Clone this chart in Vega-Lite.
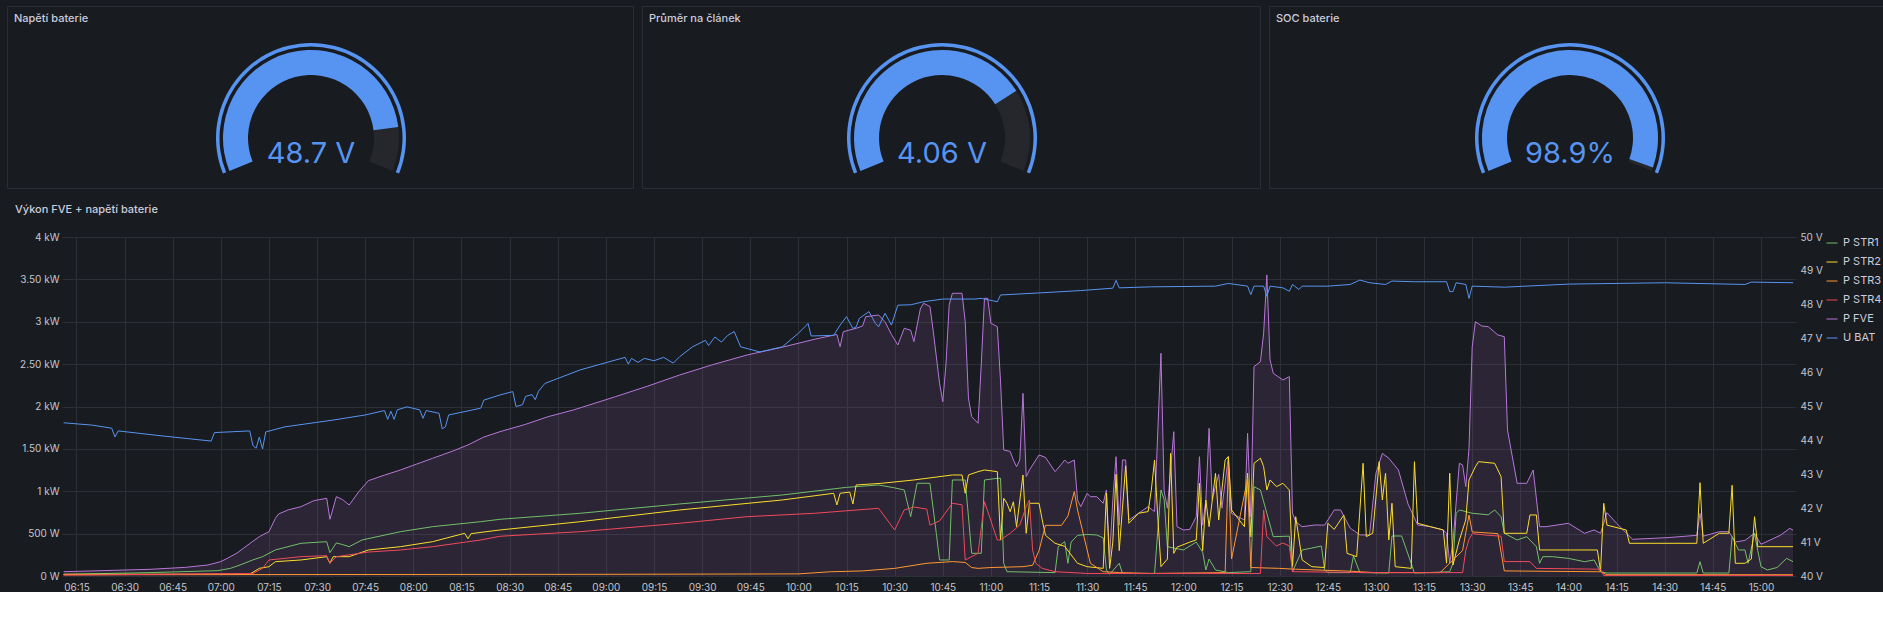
{
  "$schema": "https://vega.github.io/schema/vega-lite/v6.json",
  "background": "#181b1f",
  "padding": {"left": 6, "top": 5, "right": 0, "bottom": 0},
  "spacing": 15,
  "resolve": {"scale": {"color": "independent"}, "legend": {"color": "independent"}},
  "config": {
    "font": "Inter",
    "view": {"stroke": null},
    "axis": {"labelFont": "Inter", "labelFontSize": 10, "labelColor": "#c5c6d0", "domain": false, "ticks": false, "tickSize": 0, "gridColor": "#2c2f35", "gridWidth": 1, "title": null},
    "title": {"font": "Inter", "fontSize": 11, "fontWeight": 500, "color": "#ccccdc"},
    "legend": {"labelFont": "Inter", "labelFontSize": 11, "labelColor": "#ccccdc", "symbolType": "stroke", "symbolStrokeWidth": 4, "symbolSize": 121, "rowPadding": 8, "labelOffset": 5, "padding": 0, "offset": 3, "title": null},
    "line": {"strokeWidth": 1}
  },
  "vconcat": [
    {
      "spacing": 7,
      "hconcat": [
        {
          "width": 626, "height": 182,
          "view": {"fill": "#181b1f", "stroke": "#2a2d33"},
          "title": {"text": "Napětí baterie", "anchor": "start", "frame": "group", "dx": 7, "offset": -29, "baseline": "bottom"},
          "data": {"values": [{"value": 48.7, "min": 40, "max": 50, "label": "48.7 V"}]},
          "layer": [
            {"mark": {"type": "arc", "outerRadius": 95, "innerRadius": 91.5, "color": "#5794F2", "x": 304, "y": 132},
             "encoding": {"theta": {"field": "min", "type": "quantitative", "stack": null, "scale": {"domain": [40, 50], "range": [-1.955, 1.955]}}, "theta2": {"field": "max"}}},
            {"mark": {"type": "arc", "outerRadius": 88, "innerRadius": 63, "color": "#26272c", "x": 304, "y": 132},
             "encoding": {"theta": {"field": "min", "type": "quantitative", "stack": null}, "theta2": {"field": "max"}}},
            {"mark": {"type": "arc", "outerRadius": 88, "innerRadius": 63, "color": "#5794F2", "x": 304, "y": 132},
             "encoding": {"theta": {"field": "min", "type": "quantitative", "stack": null}, "theta2": {"field": "value"}}},
            {"mark": {"type": "text", "font": "Inter", "fontSize": 29, "color": "#5794F2", "align": "center", "baseline": "alphabetic", "x": 304, "y": 157},
             "encoding": {"text": {"field": "label"}}}
          ]
        },
        {
          "width": 618, "height": 182,
          "view": {"fill": "#181b1f", "stroke": "#2a2d33"},
          "title": {"text": "Průměr na článek", "anchor": "start", "frame": "group", "dx": 7, "offset": -29, "baseline": "bottom"},
          "data": {"values": [{"value": 4.06, "min": 3, "max": 4.4, "label": "4.06 V"}]},
          "layer": [
            {"mark": {"type": "arc", "outerRadius": 95, "innerRadius": 91.5, "color": "#5794F2", "x": 300, "y": 132},
             "encoding": {"theta": {"field": "min", "type": "quantitative", "stack": null, "scale": {"domain": [3, 4.4], "range": [-1.955, 1.955]}}, "theta2": {"field": "max"}}},
            {"mark": {"type": "arc", "outerRadius": 88, "innerRadius": 63, "color": "#26272c", "x": 300, "y": 132},
             "encoding": {"theta": {"field": "min", "type": "quantitative", "stack": null}, "theta2": {"field": "max"}}},
            {"mark": {"type": "arc", "outerRadius": 88, "innerRadius": 63, "color": "#5794F2", "x": 300, "y": 132},
             "encoding": {"theta": {"field": "min", "type": "quantitative", "stack": null}, "theta2": {"field": "value"}}},
            {"mark": {"type": "text", "font": "Inter", "fontSize": 29, "color": "#5794F2", "align": "center", "baseline": "alphabetic", "x": 300, "y": 157},
             "encoding": {"text": {"field": "label"}}}
          ]
        },
        {
          "width": 616, "height": 182,
          "view": {"fill": "#181b1f", "stroke": "#2a2d33"},
          "title": {"text": "SOC baterie", "anchor": "start", "frame": "group", "dx": 7, "offset": -29, "baseline": "bottom"},
          "data": {"values": [{"value": 98.9, "min": 0, "max": 100, "label": "98.9%"}]},
          "layer": [
            {"mark": {"type": "arc", "outerRadius": 95, "innerRadius": 91.5, "color": "#5794F2", "x": 301, "y": 132},
             "encoding": {"theta": {"field": "min", "type": "quantitative", "stack": null, "scale": {"domain": [0, 100], "range": [-1.955, 1.955]}}, "theta2": {"field": "max"}}},
            {"mark": {"type": "arc", "outerRadius": 88, "innerRadius": 63, "color": "#26272c", "x": 301, "y": 132},
             "encoding": {"theta": {"field": "min", "type": "quantitative", "stack": null}, "theta2": {"field": "max"}}},
            {"mark": {"type": "arc", "outerRadius": 88, "innerRadius": 63, "color": "#5794F2", "x": 301, "y": 132},
             "encoding": {"theta": {"field": "min", "type": "quantitative", "stack": null}, "theta2": {"field": "value"}}},
            {"mark": {"type": "text", "font": "Inter", "fontSize": 29, "color": "#5794F2", "align": "center", "baseline": "alphabetic", "x": 301, "y": 157},
             "encoding": {"text": {"field": "label"}}}
          ]
        }
      ]
    },
    {
      "width": 1789, "height": 339,
      "title": {"text": "Výkon FVE + napětí baterie", "anchor": "start", "frame": "group", "dx": 8, "offset": 6, "baseline": "bottom"},
      "layer": [
        {
          "layer": [
            {
              "data": {"format": {"parse": {"t": "utc:'%H:%M'"}}, "values": [{"t":"06:11","v":51},{"t":"06:23","v":63},{"t":"06:38","v":79},{"t":"06:49","v":102},{"t":"06:56","v":130},{"t":"07:00","v":170},{"t":"07:02","v":208},{"t":"07:05","v":270},{"t":"07:07","v":326},{"t":"07:10","v":410},{"t":"07:12","v":464},{"t":"07:15","v":523},{"t":"07:17","v":680},{"t":"07:18","v":732},{"t":"07:21","v":780},{"t":"07:25","v":818},{"t":"07:29","v":889},{"t":"07:33","v":917},{"t":"07:34","v":669},{"t":"07:35","v":800},{"t":"07:36","v":936},{"t":"07:38","v":900},{"t":"07:40","v":838},{"t":"07:43","v":995},{"t":"07:46","v":1125},{"t":"07:51","v":1190},{"t":"07:56","v":1251},{"t":"08:01","v":1320},{"t":"08:06","v":1389},{"t":"08:12","v":1470},{"t":"08:17","v":1546},{"t":"08:22","v":1640},{"t":"08:27","v":1703},{"t":"08:35","v":1790},{"t":"08:42","v":1880},{"t":"08:50","v":1960},{"t":"09:03","v":2116},{"t":"09:13","v":2240},{"t":"09:23","v":2372},{"t":"09:33","v":2490},{"t":"09:44","v":2608},{"t":"09:55","v":2700},{"t":"10:05","v":2793},{"t":"10:12","v":2850},{"t":"10:13","v":2706},{"t":"10:14","v":2883},{"t":"10:18","v":2923},{"t":"10:20","v":2950},{"t":"10:21","v":3060},{"t":"10:25","v":3080},{"t":"10:27","v":3000},{"t":"10:29","v":2850},{"t":"10:31","v":2726},{"t":"10:33","v":2923},{"t":"10:35","v":2900},{"t":"10:36","v":2765},{"t":"10:38","v":3150},{"t":"10:39","v":3218},{"t":"10:41","v":3180},{"t":"10:42","v":2900},{"t":"10:44","v":2274},{"t":"10:45","v":2057},{"t":"10:46","v":2500},{"t":"10:47","v":3200},{"t":"10:48","v":3336},{"t":"10:51","v":3336},{"t":"10:52","v":3000},{"t":"10:53","v":2100},{"t":"10:54","v":1880},{"t":"10:56","v":1802},{"t":"10:57","v":2500},{"t":"10:58","v":3277},{"t":"10:59","v":3277},{"t":"11:00","v":2982},{"t":"11:02","v":2942},{"t":"11:03","v":2300},{"t":"11:04","v":1487},{"t":"11:06","v":1470},{"t":"11:07","v":1369},{"t":"11:08","v":1290},{"t":"11:09","v":1369},{"t":"11:10","v":2156},{"t":"11:11","v":1172},{"t":"11:12","v":1250},{"t":"11:15","v":1428},{"t":"11:17","v":1400},{"t":"11:20","v":1231},{"t":"11:22","v":1320},{"t":"11:23","v":1369},{"t":"11:24","v":1330},{"t":"11:26","v":1369},{"t":"11:27","v":897},{"t":"11:28","v":818},{"t":"11:30","v":975},{"t":"11:31","v":936},{"t":"11:33","v":936},{"t":"11:35","v":858},{"t":"11:36","v":1015},{"t":"11:37","v":228},{"t":"11:38","v":900},{"t":"11:39","v":1408},{"t":"11:40","v":600},{"t":"11:41","v":1369},{"t":"11:42","v":1369},{"t":"11:43","v":661},{"t":"11:46","v":740},{"t":"11:49","v":818},{"t":"11:51","v":760},{"t":"11:53","v":2628},{"t":"11:54","v":1000},{"t":"11:55","v":800},{"t":"11:57","v":1703},{"t":"11:58","v":582},{"t":"12:00","v":543},{"t":"12:02","v":550},{"t":"12:04","v":700},{"t":"12:05","v":1408},{"t":"12:06","v":600},{"t":"12:07","v":900},{"t":"12:08","v":1743},{"t":"12:09","v":900},{"t":"12:10","v":1055},{"t":"12:11","v":1200},{"t":"12:12","v":800},{"t":"12:14","v":1408},{"t":"12:15","v":740},{"t":"12:17","v":700},{"t":"12:19","v":661},{"t":"12:20","v":1684},{"t":"12:21","v":700},{"t":"12:22","v":2470},{"t":"12:24","v":2529},{"t":"12:25","v":2864},{"t":"12:26","v":3552},{"t":"12:27","v":2549},{"t":"12:28","v":2392},{"t":"12:31","v":2313},{"t":"12:33","v":2352},{"t":"12:34","v":740},{"t":"12:35","v":641},{"t":"12:37","v":582},{"t":"12:41","v":602},{"t":"12:44","v":600},{"t":"12:47","v":779},{"t":"12:49","v":779},{"t":"12:52","v":564},{"t":"12:55","v":485},{"t":"12:58","v":485},{"t":"13:00","v":1212},{"t":"13:02","v":1447},{"t":"13:04","v":1390},{"t":"13:07","v":1251},{"t":"13:10","v":850},{"t":"13:13","v":602},{"t":"13:17","v":582},{"t":"13:21","v":543},{"t":"13:22","v":504},{"t":"13:23","v":151},{"t":"13:24","v":400},{"t":"13:26","v":1330},{"t":"13:27","v":1310},{"t":"13:28","v":1054},{"t":"13:29","v":1500},{"t":"13:30","v":2700},{"t":"13:31","v":3001},{"t":"13:33","v":2950},{"t":"13:35","v":2942},{"t":"13:38","v":2844},{"t":"13:40","v":2824},{"t":"13:41","v":1723},{"t":"13:44","v":1094},{"t":"13:47","v":1094},{"t":"13:49","v":1251},{"t":"13:51","v":582},{"t":"13:53","v":582},{"t":"14:00","v":622},{"t":"14:05","v":504},{"t":"14:08","v":543},{"t":"14:10","v":504},{"t":"14:12","v":747},{"t":"14:15","v":622},{"t":"14:20","v":433},{"t":"14:31","v":453},{"t":"14:40","v":480},{"t":"14:41","v":740},{"t":"14:42","v":470},{"t":"14:47","v":523},{"t":"14:50","v":523},{"t":"14:52","v":401},{"t":"14:55","v":420},{"t":"14:58","v":504},{"t":"15:00","v":374},{"t":"15:06","v":480},{"t":"15:09","v":563},{"t":"15:10","v":540}]},
              "layer": [
                {
                  "mark": {"type": "area", "fill": "#B877D9", "fillOpacity": 0.12},
                  "encoding": {
                    "x": {"field": "t", "type": "temporal", "scale": {"type": "utc", "domain": [-2208966570000, -2208934145000], "range": [55, 1789], "nice": false}, "axis": {"format": "%H:%M", "values": [-2208966300000, -2208965400000, -2208964500000, -2208963600000, -2208962700000, -2208961800000, -2208960900000, -2208960000000, -2208959100000, -2208958200000, -2208957300000, -2208956400000, -2208955500000, -2208954600000, -2208953700000, -2208952800000, -2208951900000, -2208951000000, -2208950100000, -2208949200000, -2208948300000, -2208947400000, -2208946500000, -2208945600000, -2208944700000, -2208943800000, -2208942900000, -2208942000000, -2208941100000, -2208940200000, -2208939300000, -2208938400000, -2208937500000, -2208936600000, -2208935700000, -2208934800000], "labelPadding": 6, "grid": true, "labelFlush": false}},
                    "y": {"field": "v", "type": "quantitative", "scale": {"domain": [0, 4000], "nice": false}, "axis": {"orient": "left", "offset": -55, "labelPadding": 3, "values": [0, 500, 1000, 1500, 2000, 2500, 3000, 3500, 4000], "grid": true, "labelExpr": "datum.value == 0 ? '0 W' : datum.value < 1000 ? datum.value + ' W' : (datum.value % 1000 == 0 ? datum.value / 1000 : format(datum.value / 1000, '.2f')) + ' kW'"}}
                  }
                },
                {
                  "mark": {"type": "line"},
                  "encoding": {"x": {"field": "t", "type": "temporal"}, "y": {"field": "v", "type": "quantitative"}, "color": {"datum": "P FVE"}}
                }
              ]
            },
            {
              "data": {"format": {"parse": {"t": "utc:'%H:%M'"}}, "values": [{"t":"06:11","v":20},{"t":"06:38","v":40},{"t":"06:59","v":63},{"t":"07:03","v":90},{"t":"07:06","v":130},{"t":"07:10","v":190},{"t":"07:13","v":228},{"t":"07:17","v":307},{"t":"07:25","v":386},{"t":"07:33","v":405},{"t":"07:34","v":275},{"t":"07:36","v":390},{"t":"07:38","v":370},{"t":"07:40","v":346},{"t":"07:44","v":425},{"t":"07:56","v":523},{"t":"08:06","v":582},{"t":"08:21","v":641},{"t":"08:27","v":669},{"t":"08:52","v":740},{"t":"09:23","v":850},{"t":"09:55","v":956},{"t":"10:15","v":1046},{"t":"10:25","v":1074},{"t":"10:30","v":1040},{"t":"10:33","v":1015},{"t":"10:35","v":700},{"t":"10:37","v":1094},{"t":"10:41","v":1094},{"t":"10:43","v":500},{"t":"10:44","v":189},{"t":"10:47","v":189},{"t":"10:48","v":1133},{"t":"10:52","v":1133},{"t":"10:54","v":268},{"t":"10:57","v":268},{"t":"10:58","v":1133},{"t":"11:02","v":1153},{"t":"11:03","v":1153},{"t":"11:04","v":150},{"t":"11:05","v":51},{"t":"11:20","v":40},{"t":"11:21","v":346},{"t":"11:23","v":405},{"t":"11:24","v":150},{"t":"11:25","v":400},{"t":"11:27","v":480},{"t":"11:30","v":490},{"t":"11:33","v":484},{"t":"11:35","v":450},{"t":"11:36","v":71},{"t":"11:37","v":20},{"t":"11:40","v":150},{"t":"11:41","v":30},{"t":"11:51","v":30},{"t":"11:53","v":1015},{"t":"11:54","v":900},{"t":"11:55","v":346},{"t":"11:57","v":330},{"t":"12:00","v":307},{"t":"12:04","v":400},{"t":"12:06","v":280},{"t":"12:07","v":71},{"t":"12:08","v":200},{"t":"12:10","v":71},{"t":"12:14","v":40},{"t":"12:21","v":51},{"t":"12:22","v":1054},{"t":"12:24","v":1015},{"t":"12:26","v":740},{"t":"12:28","v":464},{"t":"12:33","v":470},{"t":"12:34","v":51},{"t":"12:37","v":307},{"t":"12:40","v":330},{"t":"12:43","v":354},{"t":"12:44","v":71},{"t":"12:45","v":40},{"t":"12:52","v":40},{"t":"12:53","v":236},{"t":"12:55","v":40},{"t":"13:04","v":35},{"t":"13:05","v":472},{"t":"13:08","v":472},{"t":"13:11","v":150},{"t":"13:12","v":35},{"t":"13:23","v":50},{"t":"13:24","v":150},{"t":"13:25","v":740},{"t":"13:26","v":779},{"t":"13:30","v":740},{"t":"13:35","v":722},{"t":"13:37","v":779},{"t":"13:39","v":700},{"t":"13:40","v":504},{"t":"13:44","v":425},{"t":"13:47","v":464},{"t":"13:50","v":346},{"t":"13:51","v":150},{"t":"13:52","v":228},{"t":"13:55","v":228},{"t":"14:00","v":208},{"t":"14:05","v":169},{"t":"14:08","v":189},{"t":"14:10","v":51},{"t":"14:12","v":35},{"t":"14:40","v":35},{"t":"14:41","v":169},{"t":"14:42","v":35},{"t":"14:50","v":35},{"t":"14:51","v":464},{"t":"14:53","v":307},{"t":"14:55","v":307},{"t":"14:56","v":150},{"t":"14:58","v":504},{"t":"14:59","v":300},{"t":"15:00","v":110},{"t":"15:02","v":71},{"t":"15:05","v":100},{"t":"15:08","v":208},{"t":"15:10","v":169}]},
              "mark": {"type": "line"},
              "encoding": {"x": {"field": "t", "type": "temporal"}, "y": {"field": "v", "type": "quantitative"},
                "color": {"datum": "P STR1", "type": "nominal", "scale": {"domain": ["P STR1", "P STR2", "P STR3", "P STR4", "P FVE", "U BAT"], "range": ["#73BF69", "#FADE2A", "#FF9830", "#F2495C", "#B877D9", "#5794F2"]}, "legend": {"orient": "right", "symbolStrokeWidth": 4, "symbolType": "stroke", "symbolSize": 121}}}
            },
            {
              "data": {"format": {"parse": {"t": "utc:'%H:%M'"}}, "values": [{"t":"06:11","v":20},{"t":"07:09","v":22},{"t":"07:12","v":90},{"t":"07:15","v":110},{"t":"07:17","v":169},{"t":"07:25","v":189},{"t":"07:33","v":228},{"t":"07:34","v":150},{"t":"07:35","v":228},{"t":"07:40","v":228},{"t":"07:46","v":307},{"t":"07:56","v":346},{"t":"08:06","v":405},{"t":"08:16","v":504},{"t":"08:17","v":440},{"t":"08:18","v":500},{"t":"08:27","v":543},{"t":"08:52","v":641},{"t":"09:23","v":779},{"t":"09:55","v":897},{"t":"10:11","v":976},{"t":"10:12","v":838},{"t":"10:13","v":976},{"t":"10:16","v":990},{"t":"10:17","v":850},{"t":"10:18","v":1074},{"t":"10:26","v":1094},{"t":"10:36","v":1133},{"t":"10:48","v":1192},{"t":"10:51","v":1192},{"t":"10:52","v":976},{"t":"10:53","v":1192},{"t":"10:56","v":1231},{"t":"10:58","v":1251},{"t":"11:02","v":1231},{"t":"11:03","v":425},{"t":"11:04","v":917},{"t":"11:05","v":858},{"t":"11:06","v":759},{"t":"11:07","v":876},{"t":"11:08","v":582},{"t":"11:10","v":1192},{"t":"11:11","v":504},{"t":"11:12","v":858},{"t":"11:15","v":858},{"t":"11:16","v":661},{"t":"11:17","v":480},{"t":"11:20","v":386},{"t":"11:23","v":350},{"t":"11:27","v":150},{"t":"11:30","v":110},{"t":"11:35","v":90},{"t":"11:36","v":976},{"t":"11:37","v":90},{"t":"11:38","v":400},{"t":"11:39","v":1200},{"t":"11:40","v":300},{"t":"11:41","v":800},{"t":"11:42","v":1300},{"t":"11:43","v":622},{"t":"11:46","v":740},{"t":"11:49","v":760},{"t":"11:50","v":1015},{"t":"11:51","v":1369},{"t":"11:52","v":700},{"t":"11:53","v":110},{"t":"11:55","v":200},{"t":"11:56","v":1447},{"t":"11:57","v":267},{"t":"11:58","v":340},{"t":"12:02","v":400},{"t":"12:04","v":425},{"t":"12:05","v":1094},{"t":"12:06","v":300},{"t":"12:07","v":897},{"t":"12:08","v":582},{"t":"12:10","v":1212},{"t":"12:11","v":661},{"t":"12:13","v":1369},{"t":"12:14","v":1409},{"t":"12:15","v":779},{"t":"12:19","v":582},{"t":"12:20","v":1212},{"t":"12:21","v":464},{"t":"12:22","v":1330},{"t":"12:24","v":1389},{"t":"12:25","v":1290},{"t":"12:26","v":1015},{"t":"12:27","v":1133},{"t":"12:29","v":1054},{"t":"12:31","v":1094},{"t":"12:33","v":1015},{"t":"12:34","v":111},{"t":"12:35","v":700},{"t":"12:37","v":189},{"t":"12:40","v":110},{"t":"12:44","v":100},{"t":"12:45","v":622},{"t":"12:47","v":550},{"t":"12:50","v":720},{"t":"12:51","v":267},{"t":"12:54","v":228},{"t":"12:56","v":1330},{"t":"12:57","v":464},{"t":"12:59","v":504},{"t":"13:01","v":1349},{"t":"13:02","v":897},{"t":"13:03","v":1212},{"t":"13:04","v":425},{"t":"13:05","v":858},{"t":"13:06","v":110},{"t":"13:11","v":90},{"t":"13:12","v":1349},{"t":"13:13","v":622},{"t":"13:17","v":582},{"t":"13:21","v":543},{"t":"13:22","v":151},{"t":"13:23","v":1212},{"t":"13:24","v":130},{"t":"13:26","v":425},{"t":"13:28","v":661},{"t":"13:29","v":1133},{"t":"13:31","v":1290},{"t":"13:32","v":1349},{"t":"13:37","v":1330},{"t":"13:39","v":1172},{"t":"13:40","v":504},{"t":"13:47","v":504},{"t":"13:48","v":720},{"t":"13:50","v":720},{"t":"13:51","v":307},{"t":"14:09","v":307},{"t":"14:10","v":60},{"t":"14:11","v":858},{"t":"14:12","v":600},{"t":"14:18","v":543},{"t":"14:19","v":386},{"t":"14:40","v":386},{"t":"14:41","v":1101},{"t":"14:42","v":386},{"t":"14:47","v":504},{"t":"14:50","v":504},{"t":"14:51","v":1070},{"t":"14:52","v":150},{"t":"14:55","v":150},{"t":"14:57","v":200},{"t":"14:58","v":700},{"t":"14:59","v":346},{"t":"15:10","v":346}]},
              "mark": {"type": "line"},
              "encoding": {"x": {"field": "t", "type": "temporal"}, "y": {"field": "v", "type": "quantitative"}, "color": {"datum": "P STR2"}}
            },
            {
              "data": {"format": {"parse": {"t": "utc:'%H:%M'"}}, "values": [{"t":"06:11","v":15},{"t":"09:00","v":20},{"t":"10:00","v":25},{"t":"10:10","v":50},{"t":"10:20","v":60},{"t":"10:30","v":90},{"t":"10:40","v":150},{"t":"10:48","v":170},{"t":"10:52","v":160},{"t":"10:54","v":100},{"t":"10:56","v":90},{"t":"11:00","v":100},{"t":"11:10","v":110},{"t":"11:13","v":127},{"t":"11:15","v":300},{"t":"11:17","v":598},{"t":"11:22","v":598},{"t":"11:24","v":708},{"t":"11:26","v":996},{"t":"11:27","v":779},{"t":"11:29","v":464},{"t":"11:31","v":150},{"t":"11:35","v":51},{"t":"11:40","v":40},{"t":"11:50","v":30},{"t":"12:13","v":40},{"t":"12:14","v":1300},{"t":"12:15","v":200},{"t":"12:20","v":1150},{"t":"12:21","v":100},{"t":"12:30","v":90},{"t":"12:35","v":80},{"t":"12:50","v":60},{"t":"13:00","v":40},{"t":"13:20","v":40},{"t":"13:27","v":300},{"t":"13:29","v":720},{"t":"13:30","v":520},{"t":"13:38","v":500},{"t":"13:40","v":60},{"t":"14:10","v":50},{"t":"14:12","v":15},{"t":"15:10","v":15}]},
              "mark": {"type": "line"},
              "encoding": {"x": {"field": "t", "type": "temporal"}, "y": {"field": "v", "type": "quantitative"}, "color": {"datum": "P STR3"}}
            },
            {
              "data": {"format": {"parse": {"t": "utc:'%H:%M'"}}, "values": [{"t":"06:11","v":10},{"t":"07:10","v":30},{"t":"07:13","v":90},{"t":"07:15","v":189},{"t":"07:25","v":228},{"t":"07:33","v":240},{"t":"07:34","v":150},{"t":"07:36","v":228},{"t":"07:46","v":283},{"t":"07:56","v":307},{"t":"08:06","v":346},{"t":"08:21","v":425},{"t":"08:27","v":469},{"t":"08:52","v":523},{"t":"09:23","v":622},{"t":"09:44","v":700},{"t":"10:05","v":740},{"t":"10:25","v":799},{"t":"10:30","v":543},{"t":"10:33","v":780},{"t":"10:36","v":814},{"t":"10:40","v":790},{"t":"10:41","v":600},{"t":"10:44","v":650},{"t":"10:48","v":858},{"t":"10:51","v":840},{"t":"10:52","v":189},{"t":"10:56","v":268},{"t":"10:58","v":877},{"t":"11:02","v":425},{"t":"11:03","v":425},{"t":"11:06","v":504},{"t":"11:09","v":602},{"t":"11:11","v":818},{"t":"11:12","v":897},{"t":"11:13","v":307},{"t":"11:14","v":150},{"t":"11:16","v":90},{"t":"11:20","v":51},{"t":"11:30","v":30},{"t":"12:24","v":30},{"t":"12:25","v":779},{"t":"12:26","v":464},{"t":"12:29","v":354},{"t":"12:31","v":390},{"t":"12:33","v":354},{"t":"12:34","v":51},{"t":"13:00","v":40},{"t":"13:27","v":40},{"t":"13:28","v":300},{"t":"13:29","v":430},{"t":"13:30","v":500},{"t":"13:35","v":480},{"t":"13:39","v":470},{"t":"13:40","v":170},{"t":"13:48","v":170},{"t":"13:50","v":90},{"t":"14:10","v":80},{"t":"14:11","v":5},{"t":"15:10","v":5}]},
              "mark": {"type": "line"},
              "encoding": {"x": {"field": "t", "type": "temporal"}, "y": {"field": "v", "type": "quantitative"}, "color": {"datum": "P STR4"}}
            }
          ]
        },
        {
          "data": {"format": {"parse": {"t": "utc:'%H:%M'"}}, "values": [{"t":"06:11","v":44.52},{"t":"06:20","v":44.45},{"t":"06:26","v":44.36},{"t":"06:27","v":44.1},{"t":"06:28","v":44.28},{"t":"06:40","v":44.15},{"t":"06:50","v":44.05},{"t":"06:57","v":43.98},{"t":"06:58","v":44.23},{"t":"07:09","v":44.28},{"t":"07:10","v":43.85},{"t":"07:11","v":43.77},{"t":"07:12","v":44.1},{"t":"07:13","v":43.75},{"t":"07:14","v":44.25},{"t":"07:20","v":44.4},{"t":"07:35","v":44.6},{"t":"07:45","v":44.75},{"t":"07:51","v":44.88},{"t":"07:52","v":44.62},{"t":"07:53","v":44.86},{"t":"07:54","v":44.62},{"t":"07:55","v":44.9},{"t":"07:58","v":44.99},{"t":"08:02","v":44.9},{"t":"08:03","v":44.65},{"t":"08:04","v":44.88},{"t":"08:08","v":44.8},{"t":"08:09","v":44.34},{"t":"08:10","v":44.4},{"t":"08:11","v":44.75},{"t":"08:21","v":44.95},{"t":"08:22","v":45.19},{"t":"08:27","v":45.34},{"t":"08:31","v":45.44},{"t":"08:32","v":45.0},{"t":"08:34","v":45.05},{"t":"08:35","v":45.3},{"t":"08:37","v":45.35},{"t":"08:38","v":45.2},{"t":"08:39","v":45.45},{"t":"08:41","v":45.68},{"t":"08:52","v":46.08},{"t":"09:06","v":46.45},{"t":"09:07","v":46.25},{"t":"09:08","v":46.42},{"t":"09:10","v":46.3},{"t":"09:12","v":46.42},{"t":"09:15","v":46.35},{"t":"09:18","v":46.45},{"t":"09:21","v":46.28},{"t":"09:23","v":46.47},{"t":"09:27","v":46.76},{"t":"09:31","v":46.95},{"t":"09:32","v":46.8},{"t":"09:34","v":47.05},{"t":"09:36","v":46.9},{"t":"09:38","v":47.1},{"t":"09:40","v":47.21},{"t":"09:42","v":46.76},{"t":"09:48","v":46.61},{"t":"09:55","v":46.76},{"t":"10:00","v":47.16},{"t":"10:02","v":47.35},{"t":"10:03","v":47.45},{"t":"10:04","v":47.08},{"t":"10:11","v":47.1},{"t":"10:13","v":47.4},{"t":"10:15","v":47.65},{"t":"10:17","v":47.3},{"t":"10:18","v":47.35},{"t":"10:19","v":47.6},{"t":"10:22","v":47.8},{"t":"10:24","v":47.45},{"t":"10:25","v":47.35},{"t":"10:27","v":47.75},{"t":"10:29","v":47.4},{"t":"10:31","v":47.99},{"t":"10:35","v":48.0},{"t":"10:39","v":48.09},{"t":"10:45","v":48.17},{"t":"10:55","v":48.17},{"t":"10:57","v":48.19},{"t":"11:02","v":48.09},{"t":"11:03","v":48.29},{"t":"11:15","v":48.35},{"t":"11:28","v":48.42},{"t":"11:38","v":48.49},{"t":"11:39","v":48.72},{"t":"11:40","v":48.5},{"t":"11:50","v":48.53},{"t":"12:10","v":48.55},{"t":"12:14","v":48.63},{"t":"12:20","v":48.55},{"t":"12:21","v":48.3},{"t":"12:22","v":48.55},{"t":"12:25","v":48.55},{"t":"12:26","v":48.25},{"t":"12:27","v":48.55},{"t":"12:31","v":48.5},{"t":"12:33","v":48.4},{"t":"12:34","v":48.6},{"t":"12:36","v":48.45},{"t":"12:37","v":48.55},{"t":"12:45","v":48.55},{"t":"12:52","v":48.6},{"t":"12:55","v":48.73},{"t":"12:58","v":48.65},{"t":"13:03","v":48.6},{"t":"13:05","v":48.7},{"t":"13:12","v":48.68},{"t":"13:22","v":48.68},{"t":"13:23","v":48.39},{"t":"13:24","v":48.39},{"t":"13:25","v":48.65},{"t":"13:28","v":48.6},{"t":"13:29","v":48.19},{"t":"13:30","v":48.55},{"t":"13:40","v":48.52},{"t":"14:00","v":48.61},{"t":"14:30","v":48.65},{"t":"14:55","v":48.6},{"t":"14:57","v":48.67},{"t":"15:10","v":48.65}]},
          "mark": {"type": "line"},
          "encoding": {
            "x": {"field": "t", "type": "temporal"},
            "y": {"field": "v", "type": "quantitative", "scale": {"domain": [40, 50], "nice": false, "zero": false}, "axis": {"orient": "right", "grid": false, "labelPadding": 4, "values": [40, 41, 42, 43, 44, 45, 46, 47, 48, 49, 50], "labelExpr": "datum.value + ' V'"}},
            "color": {"datum": "U BAT"}
          }
        }
      ],
      "resolve": {"scale": {"y": "independent"}, "axis": {"y": "independent"}}
    }
  ]
}
